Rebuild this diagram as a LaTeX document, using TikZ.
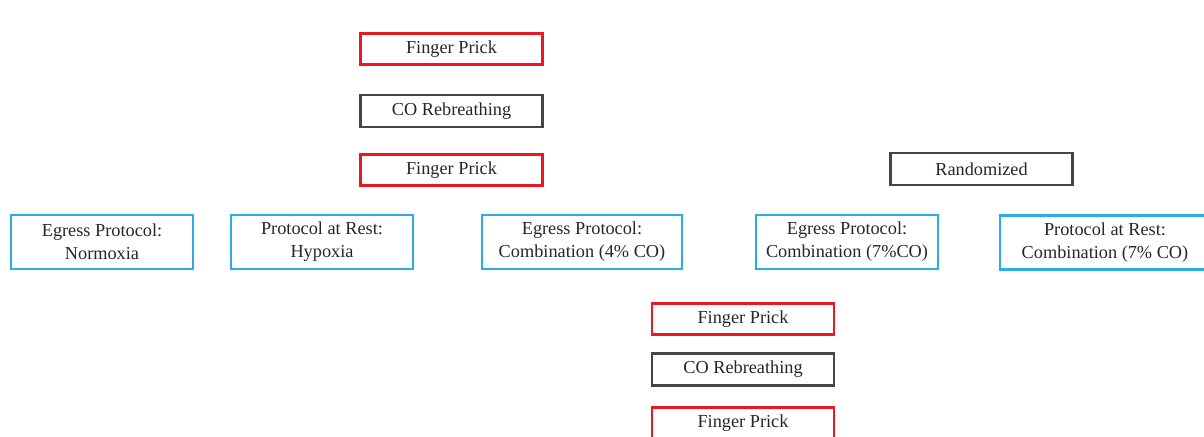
\documentclass[tikz,border=0pt]{standalone}
\usepackage{fontspec}
\setmainfont{Liberation Serif}
\definecolor{prickred}{HTML}{E8191F}
\definecolor{rebgray}{HTML}{454545}
\definecolor{protblue}{HTML}{2BACE2}
\tikzset{
  prickbox/.style={draw=prickred, line width=1.8pt, minimum width=4.55cm, minimum height=0.78cm},
  rebbox/.style={draw=rebgray, line width=1.8pt, minimum width=4.55cm, minimum height=0.8cm},
  protbox/.style={draw=protblue, line width=1.8pt, minimum width=4.55cm, minimum height=1.36cm, align=center}
}
\begin{document}
\begin{tikzpicture}[x=0.025cm, y=-0.025cm, every node/.style={font=\fontsize{13}{16.3}\selectfont, text=black!85}]
  \useasboundingbox (0,0) rectangle (1204,436);

  % first measurement
  \node[prickbox] (prickA) at (451.5,49) {Finger Prick};
  \node[rebbox] (rebA) at (451.5,111) {CO Rebreathing};
  \node[prickbox] (prickB) at (451.5,170) {Finger Prick};

  \node[rebbox] (rand) at (981.5,169) {Randomized};

  % protocols
  \node[protbox] (normox) at (102,242) {Egress Protocol:\\Normoxia};
  \node[protbox] (hypox) at (322,242) {Protocol at Rest:\\Hypoxia};
  \node[protbox, minimum width=5cm] (combA) at (582,242) {Egress Protocol:\\Combination (4\% CO)};
  \node[protbox] (combB) at (847,242) {Egress Protocol:\\Combination (7\%CO)};
  \node[protbox, minimum width=5.25cm] (combC) at (1105,242.5) {Protocol at Rest:\\Combination (7\% CO)};

  % second measurement
  \node[prickbox] (prickC) at (743,319) {Finger Prick};
  \node[rebbox] (rebB) at (743,369.5) {CO Rebreathing};
  \node[prickbox] (prickD) at (743,423) {Finger Prick};
\end{tikzpicture}
\end{document}
